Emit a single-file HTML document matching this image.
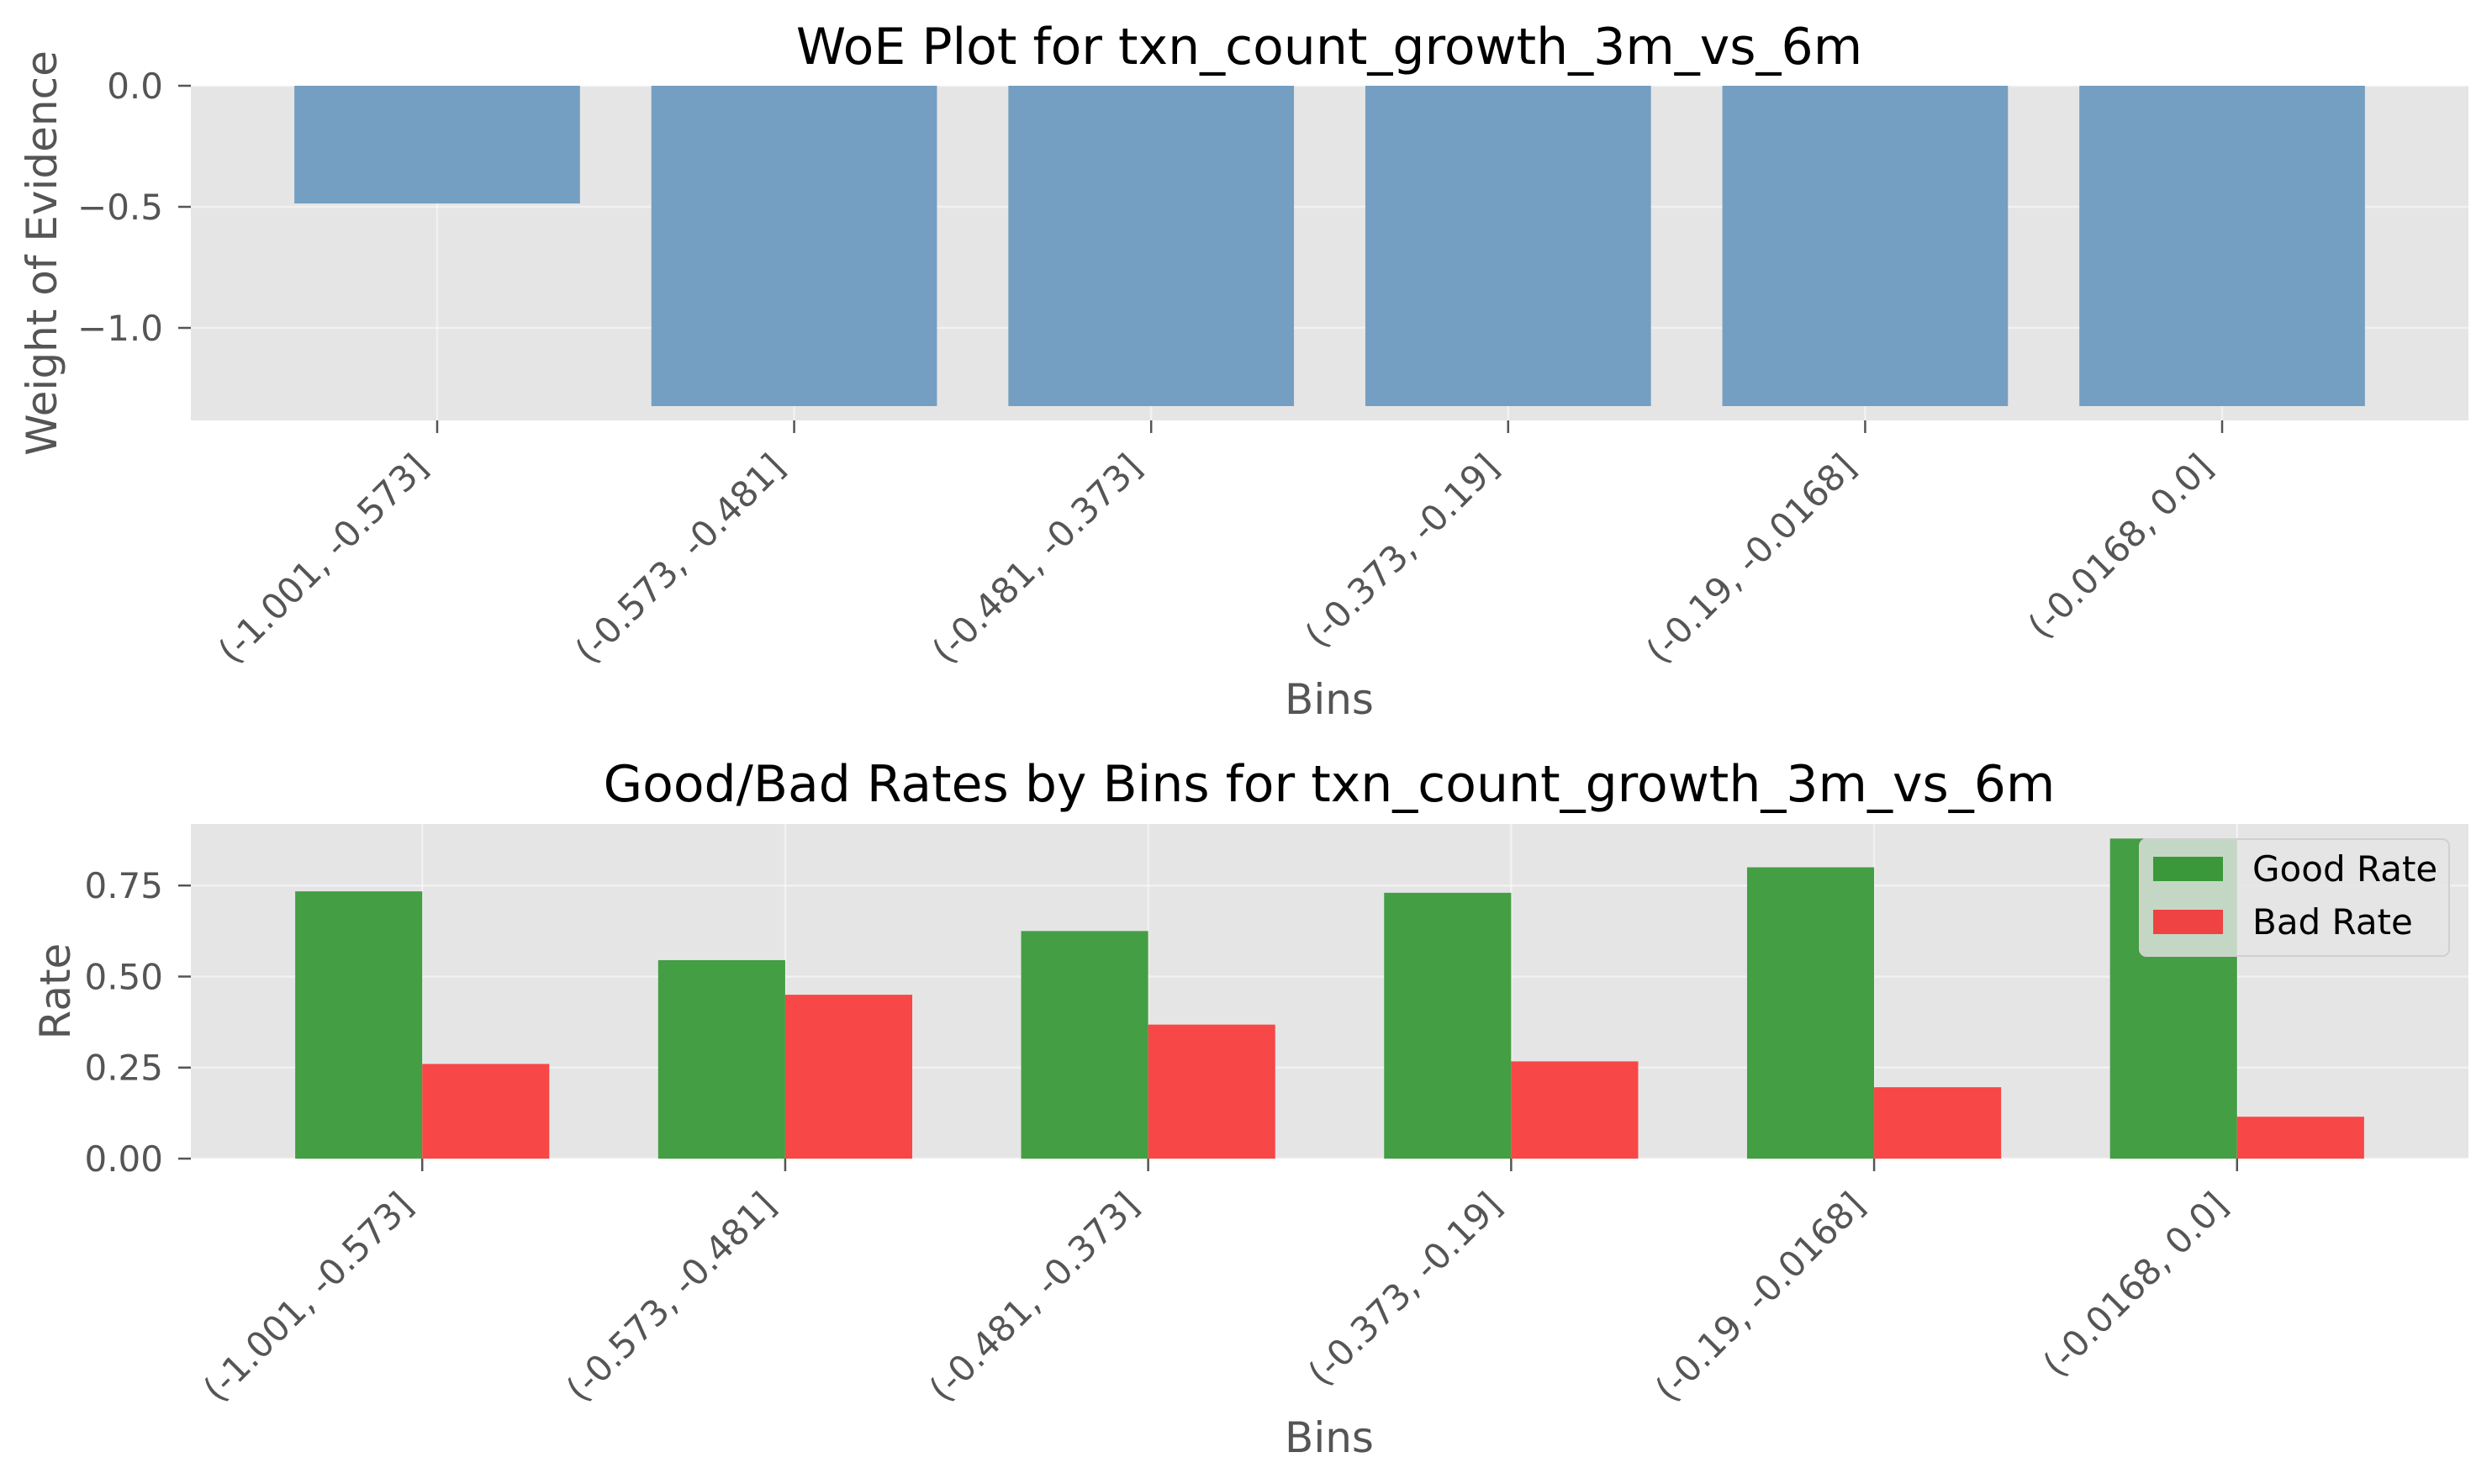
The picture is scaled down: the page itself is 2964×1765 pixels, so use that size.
<!DOCTYPE html>
<html><head><meta charset="utf-8"><style>
html,body{margin:0;padding:0;background:#fff;}
svg{display:block;font-family:"DejaVu Sans","Liberation Sans",sans-serif;}
</style></head><body>
<svg id="fig" width="2964" height="1765" viewBox="0 0 2964 1765" xmlns="http://www.w3.org/2000/svg">
<rect width="2964" height="1765" fill="#fff"/>
<g id="topchart"></g>
<g id="botchart"></g>
</svg>
<script>
const categories = ["(-1.001, -0.573]","(-0.573, -0.481]","(-0.481, -0.373]","(-0.373, -0.19]","(-0.19, -0.0168]","(-0.0168, 0.0]"];
const woeValues = [-0.486, -1.323, -1.323, -1.323, -1.323, -1.323];
const goodRate = [0.734, 0.545, 0.625, 0.730, 0.800, 0.879];
const badRate = [0.260, 0.450, 0.368, 0.267, 0.196, 0.115];
const woeTicks = [0.0, -0.5, -1.0];
const woeTickLabels = ["0.0", "\u22120.5", "\u22121.0"];
const rateTicks = [0, 0.25, 0.5, 0.75];
const rateTickLabels = ["0.00", "0.25", "0.50", "0.75"];

const NS = "http://www.w3.org/2000/svg";
function mk(parent, tag, attrs, text) {
  const e = document.createElementNS(NS, tag);
  for (const k in attrs) e.setAttribute(k, attrs[k]);
  if (text !== undefined) e.textContent = text;
  parent.appendChild(e);
  return e;
}
const PL = 227, PR = 2936;
const GRID = "rgba(255,255,255,0.45)";

function drawAxes(g, o) {
  const xs = v => PL + (v - o.xmin) / (o.xmax - o.xmin) * (PR - PL);
  const ys = v => o.bottom - (v - o.ymin) / (o.ymax - o.ymin) * (o.bottom - o.top);
  const bg = mk(g, "rect", {x: PL, y: o.top, width: PR - PL, height: o.bottom - o.top, fill: "#E5E5E5"});
  
  
  o.yticks.forEach((t, i) => {
    const y = ys(t);
    const gl = mk(g, "line", {x1: PL, x2: PR, y1: y, y2: y, stroke: GRID, "stroke-width": 2.5});
    
    
    const tk = mk(g, "line", {x1: PL - 15, x2: PL, y1: y, y2: y, stroke: "#555", "stroke-width": 2.5});
    
    
    const tl = mk(g, "text", {x: PL - 33, y: y + 15, "text-anchor": "end", "font-size": 42, fill: "#555"}, o.ytickLabels[i]);
    
    
  });
  categories.forEach((c, i) => {
    const x = xs(i);
    const gl = mk(g, "line", {x1: x, x2: x, y1: o.top, y2: o.bottom, stroke: GRID, "stroke-width": 2.5});
    
    
  });
  return {xs, ys};
}
function drawXTicks(g, o, xs) {
  categories.forEach((c, i) => {
    const x = xs(i);
    const tk = mk(g, "line", {x1: x, x2: x, y1: o.bottom, y2: o.bottom + 15, stroke: "#555", "stroke-width": 2.5});
    
    
    const ax = x - 9, ay = o.bottom + 58;
    const tl = mk(g, "text", {x: ax, y: ay, "text-anchor": "end", "font-size": 42, fill: "#555", transform: "rotate(-45 " + ax + " " + ay + ")"}, c);
    
    
  });
}

// ---- Top chart: WoE ----
const topG = document.getElementById("topchart");
const oT = {prefix: "woe", top: 102, bottom: 500, ymin: -1.382, ymax: 0, xmin: -0.69, xmax: 5.69, yticks: woeTicks, ytickLabels: woeTickLabels};
const aT = drawAxes(topG, oT);
woeValues.forEach((v, i) => {
  const x0 = aT.xs(i - 0.4), x1 = aT.xs(i + 0.4);
  const y0 = aT.ys(0), y1 = aT.ys(v);
  const b = mk(topG, "rect", {x: x0, y: Math.min(y0, y1), width: x1 - x0, height: Math.abs(y1 - y0), fill: "#749FC2"});
  
  
});
drawXTicks(topG, oT, aT.xs);
let tx = mk(topG, "text", {x: 1581, y: 76, "text-anchor": "middle", "font-size": 60, fill: "#000"}, "WoE Plot for txn_count_growth_3m_vs_6m");


tx = mk(topG, "text", {x: 1581, y: 849, "text-anchor": "middle", "font-size": 50, fill: "#555"}, "Bins");


tx = mk(topG, "text", {x: 67, y: 301, "text-anchor": "middle", "font-size": 50, fill: "#555", transform: "rotate(-90 67 301)"}, "Weight of Evidence");



// ---- Bottom chart: rates ----
const botG = document.getElementById("botchart");
const oB = {prefix: "rates", top: 980, bottom: 1378, ymin: 0, ymax: 0.919, xmin: -0.6375, xmax: 5.6375, yticks: rateTicks, ytickLabels: rateTickLabels};
const aB = drawAxes(botG, oB);
goodRate.forEach((v, i) => {
  const x0 = aB.xs(i - 0.35), x1 = aB.xs(i);
  const b = mk(botG, "rect", {x: x0, y: aB.ys(v), width: x1 - x0, height: aB.ys(0) - aB.ys(v), fill: "#449E44"});
  
  
});
badRate.forEach((v, i) => {
  const x0 = aB.xs(i), x1 = aB.xs(i + 0.35);
  const b = mk(botG, "rect", {x: x0, y: aB.ys(v), width: x1 - x0, height: aB.ys(0) - aB.ys(v), fill: "#F74747"});
  
  
});
drawXTicks(botG, oB, aB.xs);
tx = mk(botG, "text", {x: 1581, y: 953, "text-anchor": "middle", "font-size": 60, fill: "#000"}, "Good/Bad Rates by Bins for txn_count_growth_3m_vs_6m");


tx = mk(botG, "text", {x: 1581, y: 1727, "text-anchor": "middle", "font-size": 50, fill: "#555"}, "Bins");


tx = mk(botG, "text", {x: 83, y: 1179, "text-anchor": "middle", "font-size": 50, fill: "#555", transform: "rotate(-90 83 1179)"}, "Rate");



// legend
const lg = mk(botG, "g", {});


mk(lg, "rect", {x: 2545, y: 998, width: 368, height: 139, rx: 8, fill: "rgba(229,229,229,0.8)", stroke: "#D0D0D0", "stroke-width": 2});
const e1 = mk(lg, "g", {});


mk(e1, "rect", {x: 2561, y: 1019, width: 83, height: 29, fill: "#3A983A"});
mk(e1, "text", {x: 2679, y: 1048, "font-size": 42, fill: "#000"}, "Good Rate");
const e2 = mk(lg, "g", {});


mk(e2, "rect", {x: 2561, y: 1082, width: 83, height: 29, fill: "#EF4242"});
mk(e2, "text", {x: 2679, y: 1111, "font-size": 42, fill: "#000"}, "Bad Rate");
</script>
</body></html>
